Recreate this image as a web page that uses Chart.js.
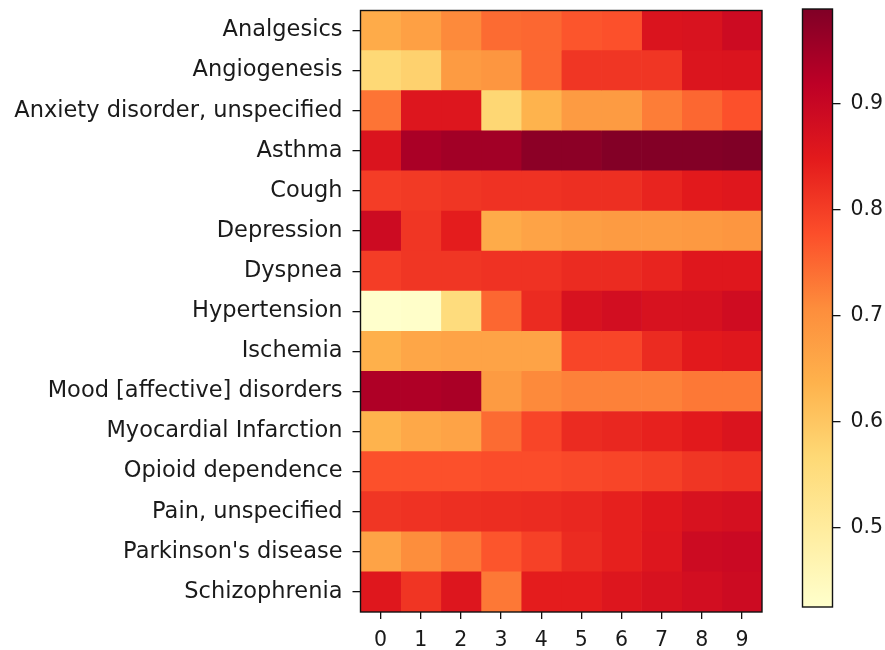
<!DOCTYPE html>
<html><head><meta charset="utf-8">
<script src="https://cdn.jsdelivr.net/npm/chart.js@4/dist/chart.umd.min.js"></script>
<style>
html,body{margin:0;padding:0;background:#fff;}
#wrap{position:relative;width:885px;height:650px;overflow:hidden;background:#fff;}
#heat{position:absolute;left:0;top:0;}
#cbar{position:absolute;left:780px;top:0;}
</style></head><body>
<div id="wrap"><canvas id="heat" width="770" height="650"></canvas><canvas id="cbar" width="105" height="650"></canvas></div>
<script>
// ---- data ----
const categories = ["Analgesics","Angiogenesis","Anxiety disorder, unspecified","Asthma","Cough","Depression","Dyspnea","Hypertension","Ischemia","Mood [affective] disorders","Myocardial Infarction","Opioid dependence","Pain, unspecified","Parkinson's disease","Schizophrenia"];
const columnLabels = ["0","1","2","3","4","5","6","7","8","9"];
const analgesics     = [0.650,0.670,0.710,0.745,0.750,0.770,0.775,0.865,0.868,0.890];
const angiogenesis   = [0.566,0.580,0.680,0.690,0.750,0.810,0.810,0.810,0.862,0.865];
const anxiety        = [0.735,0.860,0.860,0.570,0.635,0.680,0.680,0.725,0.750,0.775];
const asthma         = [0.865,0.940,0.950,0.950,0.975,0.975,0.985,0.985,0.985,0.989];
const cough          = [0.800,0.805,0.810,0.815,0.815,0.820,0.820,0.835,0.850,0.855];
const depression     = [0.890,0.810,0.845,0.650,0.665,0.675,0.680,0.680,0.685,0.690];
const dyspnea        = [0.800,0.810,0.810,0.815,0.815,0.825,0.825,0.835,0.855,0.855];
const hypertension   = [0.425,0.430,0.555,0.750,0.825,0.870,0.880,0.870,0.872,0.885];
const ischemia       = [0.640,0.660,0.665,0.665,0.665,0.790,0.790,0.825,0.850,0.855];
const mood           = [0.935,0.935,0.940,0.680,0.710,0.720,0.720,0.720,0.730,0.730];
const myocardial     = [0.635,0.655,0.665,0.745,0.790,0.825,0.830,0.838,0.850,0.865];
const opioid         = [0.775,0.775,0.775,0.780,0.780,0.785,0.790,0.797,0.810,0.815];
const pain           = [0.810,0.815,0.820,0.822,0.825,0.830,0.840,0.855,0.870,0.875];
const parkinsons     = [0.665,0.705,0.730,0.770,0.795,0.825,0.840,0.860,0.890,0.895];
const schizophrenia  = [0.855,0.812,0.860,0.730,0.845,0.845,0.860,0.870,0.880,0.890];
const colorbarTicks  = [0.5,0.6,0.7,0.8,0.9];

const rows = [analgesics,angiogenesis,anxiety,asthma,cough,depression,dyspnea,hypertension,ischemia,mood,myocardial,opioid,pain,parkinsons,schizophrenia];
const allVals = rows.flat();
const vmin = Math.min(...allVals), vmax = Math.max(...allVals);

// YlOrRd colormap
const cmapStops = ["#ffffcc","#ffeda0","#fed976","#feb24c","#fd8d3c","#fc4e2a","#e31a1c","#bd0026","#800026"];
const hex2rgb = h => [parseInt(h.slice(1,3),16),parseInt(h.slice(3,5),16),parseInt(h.slice(5,7),16)];
const stopsRGB = cmapStops.map(hex2rgb);
function cmap(t){
  t = Math.max(0, Math.min(1, t));
  const p = t*(stopsRGB.length-1);
  const i = Math.min(Math.floor(p), stopsRGB.length-2);
  const f = p - i;
  const a = stopsRGB[i], b = stopsRGB[i+1];
  return `rgb(${Math.round(a[0]+(b[0]-a[0])*f)},${Math.round(a[1]+(b[1]-a[1])*f)},${Math.round(a[2]+(b[2]-a[2])*f)})`;
}
const colorOf = v => cmap((v - vmin)/(vmax - vmin));

const FAMILY = "'DejaVu Sans', sans-serif";
const YFONT = {family: FAMILY, size: 22.5};
const NFONT = {family: FAMILY, size: 20.5};
const TXT = '#1a1a1a';

const framePlugin = {
  id: 'frame',
  afterDatasetsDraw(chart){
    const {ctx, chartArea: a} = chart;
    ctx.save();
    ctx.strokeStyle = '#111';
    ctx.lineWidth = 1.4;
    ctx.strokeRect(a.left, a.top, a.right - a.left, a.bottom - a.top);
    ctx.restore();
  }
};
const noPad = s => { s.paddingTop = 0; s.paddingBottom = 0; s.paddingLeft = 0; s.paddingRight = 0; };

// ---- heatmap ----
const datasets = columnLabels.map((c, j) => ({
  label: c,
  data: rows.map(() => [j - 0.5, j + 0.5]),
  backgroundColor: rows.map(r => colorOf(r[j])),
  borderWidth: 0,
  barPercentage: 1,
  categoryPercentage: 1
}));

new Chart(document.getElementById('heat'), {
  type: 'bar',
  data: {labels: categories, datasets},
  options: {
    indexAxis: 'y',
    responsive: false,
    animation: false,
    devicePixelRatio: 1,
    layout: {padding: {left: 0, right: 8, top: 10.5, bottom: 0}},
    plugins: {legend: {display: false}, tooltip: {enabled: false}},
    scales: {
      y: {
        type: 'category',
        stacked: true,
        offset: true,
        border: {display: false},
        grid: {offset: false, drawOnChartArea: false, drawTicks: true, tickLength: 8, color: '#111', lineWidth: 1.3},
        ticks: {font: YFONT, color: TXT, padding: 10, autoSkip: false},
        afterFit(s){ s.width = 360.5; noPad(s); }
      },
      x: {
        type: 'linear',
        min: -0.5, max: 9.5,
        border: {display: false},
        grid: {drawOnChartArea: false, drawTicks: true, tickLength: 7, color: '#111', lineWidth: 1.3},
        ticks: {font: NFONT, color: TXT, padding: 9, callback: v => columnLabels[v] ?? ''},
        afterBuildTicks(s){ s.ticks = columnLabels.map((c, j) => ({value: j})); },
        afterFit(s){ s.height = 38; noPad(s); }
      }
    }
  },
  plugins: [framePlugin]
});

// ---- colorbar ----
new Chart(document.getElementById('cbar'), {
  type: 'bar',
  data: {labels: [''], datasets: [{
    data: [[vmin, vmax]],
    borderWidth: 0,
    barPercentage: 1,
    categoryPercentage: 1,
    backgroundColor(ctx){
      const a = ctx.chart.chartArea;
      if (!a) return cmap(0.5);
      const g = ctx.chart.ctx.createLinearGradient(0, a.bottom, 0, a.top);
      cmapStops.forEach((c, i) => g.addColorStop(i/(cmapStops.length-1), c));
      return g;
    }
  }]},
  options: {
    responsive: false,
    animation: false,
    devicePixelRatio: 1,
    layout: {padding: {left: 22.5, right: 0, top: 9, bottom: 43}},
    plugins: {legend: {display: false}, tooltip: {enabled: false}},
    scales: {
      x: {display: false},
      y: {
        position: 'right',
        min: vmin, max: vmax,
        border: {display: false},
        grid: {drawOnChartArea: false, drawTicks: true, tickLength: 8, color: '#111', lineWidth: 1.3},
        ticks: {font: NFONT, color: TXT, padding: 10, callback: v => Number(v).toFixed(1)},
        afterBuildTicks(s){ s.ticks = colorbarTicks.map(v => ({value: v})); },
        afterFit(s){ s.width = 52.5; noPad(s); }
      }
    }
  },
  plugins: [framePlugin]
});
</script>
</body></html>
